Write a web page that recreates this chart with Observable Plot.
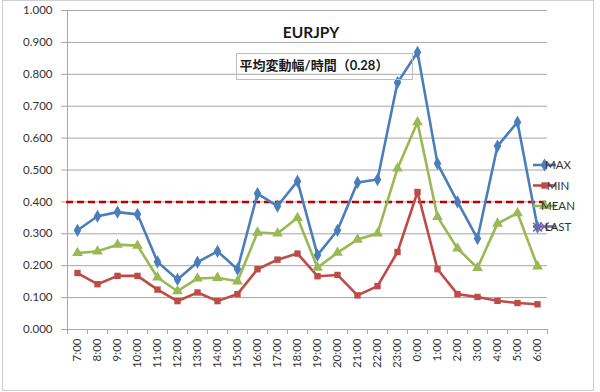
<!DOCTYPE html>
<html>
<head>
<meta charset="utf-8">
<script src="https://cdn.jsdelivr.net/npm/d3@7"></script>
<script src="https://cdn.jsdelivr.net/npm/@observablehq/plot@0.6"></script>
<style>
  html, body { margin: 0; padding: 0; background: #fff; }
  #chart svg { display: block; }
</style>
</head>
<body>
<div id="chart"></div>
<script>
const hours = ["7:00","8:00","9:00","10:00","11:00","12:00","13:00","14:00","15:00","16:00","17:00","18:00","19:00","20:00","21:00","22:00","23:00","0:00","1:00","2:00","3:00","4:00","5:00","6:00"];
const maxVals  = [0.311,0.355,0.368,0.361,0.212,0.157,0.211,0.245,0.189,0.426,0.387,0.465,0.233,0.311,0.461,0.470,0.774,0.869,0.520,0.400,0.285,0.575,0.650,0.321];
const minVals  = [0.177,0.142,0.168,0.168,0.125,0.089,0.116,0.089,0.111,0.189,0.219,0.238,0.167,0.171,0.107,0.136,0.243,0.431,0.189,0.111,0.102,0.090,0.083,0.079];
const meanVals = [0.240,0.245,0.266,0.263,0.163,0.120,0.160,0.162,0.151,0.304,0.301,0.350,0.194,0.241,0.282,0.301,0.505,0.650,0.353,0.254,0.193,0.332,0.365,0.198];
const lastVals = [null,null,null,null,null,null,null,null,null,null,null,null,null,null,null,null,null,null,null,null,null,null,null,0.321];
const threshold = 0.40;
const yTicks = [0,0.1,0.2,0.3,0.4,0.5,0.6,0.7,0.8,0.9,1.0];
const seriesNames = ["MAX","MIN","MEAN","LAST"];
const seriesColors = ["#4A7EBB","#BE4B48","#98B954","#7D60A0"];
const seriesSymbols = ["diamond","square","triangle","times"];
const title = "EURJPY";
const subtitle = "平均変動幅/時間（0.28）";

const seriesVals = [maxVals, minVals, meanVals, lastVals];
const rows = [];
seriesNames.forEach((s, si) => {
  hours.forEach((h, i) => {
    const v = seriesVals[si][i];
    if (v != null) rows.push({series: s, hour: h, value: v});
  });
});

const font = "Lato, 'Noto Sans CJK JP', sans-serif";
const grid = "#a6a6a6";

const marks = [
  Plot.gridY(yTicks, {stroke: grid, strokeOpacity: 1, strokeWidth: 1}),
  Plot.axisY(yTicks, {label: null, tickFormat: d3.format(".3f"), tickSize: 5, tickPadding: 9, stroke: grid, fill: "#333", fontSize: 11.5}),
  Plot.ruleX([hours[0]], {dx: -10, stroke: grid, strokeWidth: 1}),
  Plot.ruleY([0], {stroke: grid, strokeWidth: 1}),
  Plot.axisX(hours, {label: null, tickSize: 5, tickFormat: () => "", dx: -10, stroke: grid}),
  Plot.axisX([hours[hours.length - 1]], {label: null, tickSize: 5, tickFormat: () => "", dx: 10, stroke: grid}),
  Plot.axisX(hours, {label: null, tickSize: 0, tickPadding: 9, tickRotate: -90, fill: "#333", fontSize: 11.5}),
  Plot.ruleY([threshold], {stroke: "#C00000", strokeWidth: 2.5, strokeDasharray: "7,4"})
];

seriesNames.forEach((s, si) => {
  const d = rows.filter(r => r.series === s);
  marks.push(Plot.line(d, {x: "hour", y: "value", stroke: seriesColors[si], strokeWidth: 2.6}));
  const sym = seriesSymbols[si];
  if (sym === "times") {
    marks.push(Plot.dot(d, {x: "hour", y: "value", symbol: sym, r: 4, stroke: seriesColors[si], strokeWidth: 1.5}));
  } else {
    marks.push(Plot.dot(d, {x: "hour", y: "value", symbol: sym, r: sym === "square" ? 3.6 : 4, fill: seriesColors[si], stroke: "none"}));
  }
});

marks.push(Plot.text([title], {frameAnchor: "top", dy: 16, dx: 4, fontSize: 15.5, fontWeight: "bold", fill: "#1a1a1a"}));
marks.push(Plot.text([subtitle], {frameAnchor: "top", dy: 50, dx: 7, fontSize: 13, fontWeight: "bold", fill: "#1a1a1a"}));

const chart = Plot.plot({
  width: 600,
  height: 392,
  marginLeft: 66,
  marginRight: 53,
  marginTop: 10,
  marginBottom: 63,
  style: {fontFamily: font, background: "#fff"},
  x: {type: "band", domain: hours, padding: 0, axis: null, label: null},
  y: {domain: [0, 1], axis: null, label: null},
  marks
});

const svg = d3.select(chart);
// outer frame
svg.insert("rect", ":first-child")
  .attr("x", 2.5).attr("y", 0.5).attr("width", 591).attr("height", 390)
  .attr("fill", "none").attr("stroke", "#cfcfcf");
// subtitle box
svg.append("rect")
  .attr("x", 236.5).attr("y", 53.5).attr("width", 176).attr("height", 26)
  .attr("fill", "none").attr("stroke", "#bdbdbd");
// legend
const lg = svg.append("g").attr("font-family", font).attr("font-size", 11.5);
const ly = [165, 185.5, 206, 226.5];
seriesNames.forEach((s, i) => {
  const g = lg.append("g").attr("transform", `translate(0,${ly[i]})`);
  g.append("line").attr("x1", 533).attr("x2", 556).attr("stroke", seriesColors[i]).attr("stroke-width", 2.6);
  const sym = {diamond: d3.symbolDiamond, square: d3.symbolSquare, triangle: d3.symbolTriangle, times: d3.symbolTimes}[seriesSymbols[i]];
  const size = seriesSymbols[i] === "square" ? 3.6 * 3.6 * Math.PI : 16 * Math.PI;
  const p = g.append("path").attr("d", d3.symbol(sym, size)()).attr("transform", "translate(544.5,0)");
  if (seriesSymbols[i] === "times") p.attr("fill", "none").attr("stroke", seriesColors[i]).attr("stroke-width", 1.5);
  else p.attr("fill", seriesColors[i]);
  g.append("text").attr("x", 558).attr("dy", "0.35em").attr("fill", "#333").text(s);
});

document.getElementById("chart").appendChild(chart);
</script>
</body>
</html>
